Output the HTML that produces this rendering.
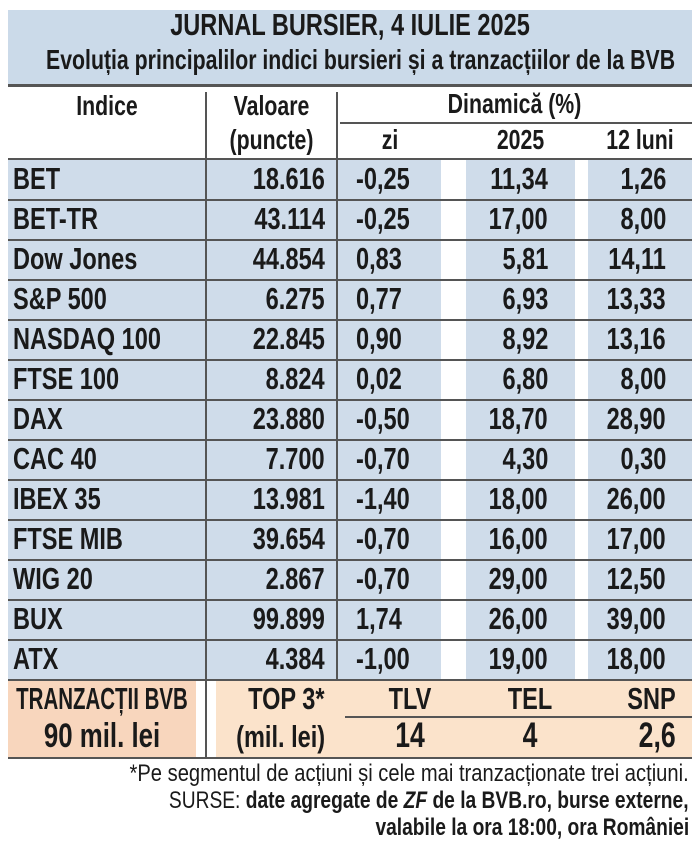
<!DOCTYPE html>
<html><head><meta charset="utf-8"><style>
body{margin:0;width:699px;height:863px;background:#fff;position:relative;overflow:hidden;font-family:"Liberation Sans",sans-serif;color:#1a1a1a}
div{position:absolute}
.r,.l,.c{font-weight:bold;font-size:31px;line-height:40px;white-space:nowrap}
.r{transform:scaleX(.76);transform-origin:right center}
.l{transform:scaleX(.76);transform-origin:left center}
.c{transform:scaleX(.76);transform-origin:center center;text-align:center}
.b{background:#cfdcea}
.hl{background:#555;height:2px}
</style></head><body>
<div style="left:8px;top:10px;width:684px;height:75px;background:#cbdae9"></div>
<div style="left:8px;top:84px;width:684px;height:3px;background:#555"></div>
<div class="c" style="left:8px;width:684px;top:8px;font-size:31px;line-height:34px">JURNAL BURSIER, 4 IULIE 2025</div>
<div class="c" style="left:-50px;width:800px;top:44px;font-size:28px;line-height:32px">Evoluția principalilor indici bursieri și a tranzacțiilor de la BVB</div>

<div class="c" style="left:8px;width:198px;top:86px;font-size:28px">Indice</div>
<div class="c" style="left:206px;width:131px;top:86px;font-size:28px">Valoare</div>
<div class="c" style="left:206px;width:131px;top:120px;font-size:28px">(puncte)</div>
<div class="c" style="left:337px;width:355px;top:84px;font-size:28px">Dinamică (%)</div>
<div style="left:340px;top:122px;width:352px;height:2px;background:#555"></div>
<div class="c" style="left:340px;width:100px;top:120px;font-size:28px">zi</div>
<div class="c" style="left:466px;width:109px;top:120px;font-size:28px">2025</div>
<div class="c" style="left:588px;width:104px;top:120px;font-size:28px">12 luni</div>

<div class="b" style="left:8px;top:160px;width:331px;height:520px"></div>
<div class="b" style="left:339px;top:160px;width:102px;height:520px"></div>
<div class="b" style="left:466px;top:160px;width:109px;height:520px"></div>
<div class="b" style="left:588px;top:160px;width:104px;height:520px"></div>
<div style="left:205px;top:92px;width:2px;height:666px;background:#555"></div>
<div style="left:336px;top:92px;width:2px;height:588px;background:#555"></div>
<div class="hl" style="left:8px;width:684px;top:158px"></div>
<div class="hl" style="left:8px;width:684px;top:199px"></div>
<div class="hl" style="left:8px;width:684px;top:239px"></div>
<div class="hl" style="left:8px;width:684px;top:279px"></div>
<div class="hl" style="left:8px;width:684px;top:319px"></div>
<div class="hl" style="left:8px;width:684px;top:359px"></div>
<div class="hl" style="left:8px;width:684px;top:399px"></div>
<div class="hl" style="left:8px;width:684px;top:439px"></div>
<div class="hl" style="left:8px;width:684px;top:479px"></div>
<div class="hl" style="left:8px;width:684px;top:519px"></div>
<div class="hl" style="left:8px;width:684px;top:559px"></div>
<div class="hl" style="left:8px;width:684px;top:599px"></div>
<div class="hl" style="left:8px;width:684px;top:639px"></div>
<div class="hl" style="left:8px;width:684px;top:679px"></div>

<div class="l" style="left:13px;top:159px">BET</div><div class="r" style="right:374px;top:159px">18.616</div><div class="l" style="left:356px;top:159px">-0,25</div><div class="r" style="right:151px;top:159px">11,34</div><div class="r" style="right:33px;top:159px">1,26</div>
<div class="l" style="left:13px;top:199px">BET-TR</div><div class="r" style="right:374px;top:199px">43.114</div><div class="l" style="left:356px;top:199px">-0,25</div><div class="r" style="right:151px;top:199px">17,00</div><div class="r" style="right:33px;top:199px">8,00</div>
<div class="l" style="left:13px;top:239px">Dow Jones</div><div class="r" style="right:374px;top:239px">44.854</div><div class="l" style="left:356px;top:239px">0,83</div><div class="r" style="right:151px;top:239px">5,81</div><div class="r" style="right:33px;top:239px">14,11</div>
<div class="l" style="left:13px;top:279px">S&amp;P 500</div><div class="r" style="right:374px;top:279px">6.275</div><div class="l" style="left:356px;top:279px">0,77</div><div class="r" style="right:151px;top:279px">6,93</div><div class="r" style="right:33px;top:279px">13,33</div>
<div class="l" style="left:13px;top:319px">NASDAQ 100</div><div class="r" style="right:374px;top:319px">22.845</div><div class="l" style="left:356px;top:319px">0,90</div><div class="r" style="right:151px;top:319px">8,92</div><div class="r" style="right:33px;top:319px">13,16</div>
<div class="l" style="left:13px;top:359px">FTSE 100</div><div class="r" style="right:374px;top:359px">8.824</div><div class="l" style="left:356px;top:359px">0,02</div><div class="r" style="right:151px;top:359px">6,80</div><div class="r" style="right:33px;top:359px">8,00</div>
<div class="l" style="left:13px;top:399px">DAX</div><div class="r" style="right:374px;top:399px">23.880</div><div class="l" style="left:356px;top:399px">-0,50</div><div class="r" style="right:151px;top:399px">18,70</div><div class="r" style="right:33px;top:399px">28,90</div>
<div class="l" style="left:13px;top:439px">CAC 40</div><div class="r" style="right:374px;top:439px">7.700</div><div class="l" style="left:356px;top:439px">-0,70</div><div class="r" style="right:151px;top:439px">4,30</div><div class="r" style="right:33px;top:439px">0,30</div>
<div class="l" style="left:13px;top:479px">IBEX 35</div><div class="r" style="right:374px;top:479px">13.981</div><div class="l" style="left:356px;top:479px">-1,40</div><div class="r" style="right:151px;top:479px">18,00</div><div class="r" style="right:33px;top:479px">26,00</div>
<div class="l" style="left:13px;top:519px">FTSE MIB</div><div class="r" style="right:374px;top:519px">39.654</div><div class="l" style="left:356px;top:519px">-0,70</div><div class="r" style="right:151px;top:519px">16,00</div><div class="r" style="right:33px;top:519px">17,00</div>
<div class="l" style="left:13px;top:559px">WIG 20</div><div class="r" style="right:374px;top:559px">2.867</div><div class="l" style="left:356px;top:559px">-0,70</div><div class="r" style="right:151px;top:559px">29,00</div><div class="r" style="right:33px;top:559px">12,50</div>
<div class="l" style="left:13px;top:599px">BUX</div><div class="r" style="right:374px;top:599px">99.899</div><div class="l" style="left:356px;top:599px">1,74</div><div class="r" style="right:151px;top:599px">26,00</div><div class="r" style="right:33px;top:599px">39,00</div>
<div class="l" style="left:13px;top:639px">ATX</div><div class="r" style="right:374px;top:639px">4.384</div><div class="l" style="left:356px;top:639px">-1,00</div><div class="r" style="right:151px;top:639px">19,00</div><div class="r" style="right:33px;top:639px">18,00</div>

<div style="left:8px;top:681px;width:188px;height:76px;background:#f8d6bd"></div>
<div style="left:216px;top:681px;width:476px;height:76px;background:#fbe3cb"></div>
<div style="left:345px;top:716px;width:347px;height:2px;background:#555"></div>
<div style="left:8px;top:757px;width:684px;height:2px;background:#555"></div>
<div class="c" style="left:-48px;width:300px;top:679px;transform:scaleX(.66)">TRANZACȚII BVB</div>
<div class="c" style="left:8px;width:188px;top:716px;font-size:34px">90 mil. lei</div>
<div class="r" style="right:374px;top:679px">TOP 3*</div>
<div class="r" style="right:374px;top:717px">(mil. lei)</div>
<div class="c" style="left:360px;width:100px;top:679px">TLV</div>
<div class="c" style="left:360px;width:100px;top:716px;font-size:35px">14</div>
<div class="c" style="left:480px;width:100px;top:679px">TEL</div>
<div class="c" style="left:480px;width:100px;top:716px;font-size:35px">4</div>
<div class="r" style="right:23px;top:679px">SNP</div>
<div class="r" style="right:23px;top:716px;font-size:35px">2,6</div>

<div class="r" style="right:10px;top:760px;font-size:24px;line-height:28px;font-weight:normal;transform:scaleX(.84)">*Pe segmentul de acțiuni și cele mai tranzacționate trei acțiuni.</div>
<div class="r" style="right:10px;top:787px;font-size:24px;line-height:28px;transform:scaleX(.8)"><span style="font-weight:normal">SURSE:</span> date agregate de <i>ZF</i> de la BVB.ro, burse externe,</div>
<div class="r" style="right:10px;top:814px;font-size:24px;line-height:28px;transform:scaleX(.8)">valabile la ora 18:00, ora României</div>
</body></html>
